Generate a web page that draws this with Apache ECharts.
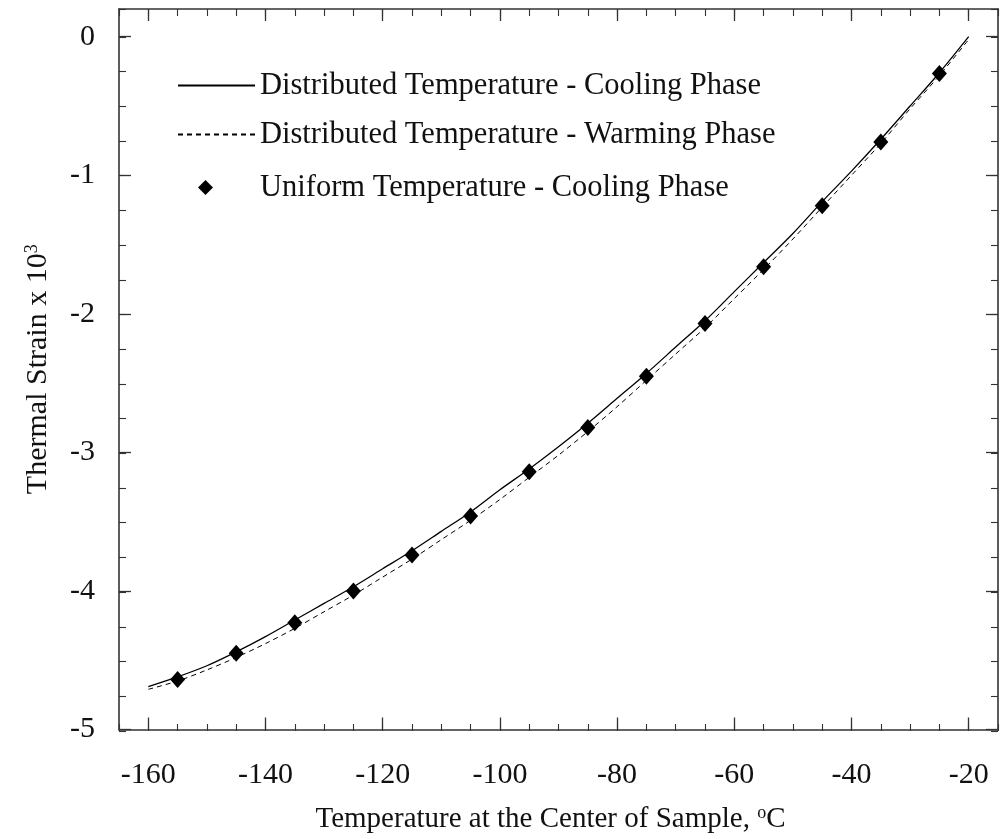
<!DOCTYPE html>
<html>
<head>
<meta charset="utf-8">
<script src="https://cdn.jsdelivr.net/npm/echarts@6/dist/echarts.min.js"></script>
<style>
  html, body { margin: 0; padding: 0; background: #fff; }
  #main { width: 1000px; height: 839px; }
</style>
</head>
<body>
<div id="main"></div>
<script>
// temperature grid for the two measured curves (deg C)
var curveTemps = [-160, -155, -150, -145, -140, -135, -130, -125, -120, -115, -110, -105, -100, -95, -90,
  -85, -80, -75, -70, -65, -60, -55, -50, -45, -40, -35, -30, -25, -20];
var coolingStrain = [-4.69, -4.62, -4.54, -4.44, -4.33, -4.21, -4.09, -3.97, -3.84, -3.71, -3.57, -3.43, -3.27, -3.12, -2.96,
  -2.79, -2.61, -2.43, -2.24, -2.05, -1.84, -1.63, -1.42, -1.19, -0.97, -0.74, -0.50, -0.26, 0.0];
var warmingStrain = [-4.71, -4.65, -4.57, -4.48, -4.38, -4.27, -4.15, -4.03, -3.90, -3.77, -3.63, -3.49, -3.34, -3.18, -3.02,
  -2.85, -2.67, -2.48, -2.29, -2.10, -1.89, -1.68, -1.46, -1.23, -1.00, -0.77, -0.52, -0.28, -0.02];
// uniform temperature model points
var uniformTemps = [-155, -145, -135, -125, -115, -105, -95, -85, -75, -65, -55, -45, -35, -25];
var uniformStrain = [-4.64, -4.45, -4.23, -4.00, -3.74, -3.46, -3.14, -2.82, -2.45, -2.07, -1.66, -1.22, -0.76, -0.265];

// tick labels
var xTicks = [-160, -140, -120, -100, -80, -60, -40, -20];
var yTicks = [-5, -4, -3, -2, -1, 0];

var seriesNames = [
  'Distributed Temperature - Cooling Phase',
  'Distributed Temperature - Warming Phase',
  'Uniform Temperature - Cooling Phase'
];

function zip(xs, ys) {
  return xs.map(function (x, i) { return [x, ys[i]]; });
}

var serif = 'Liberation Serif';
var frameColor = '#333';
var textColor = '#111';
var plotBox = { left: 119, right: 2, top: 9, bottom: 108 };

var myChart = echarts.init(document.getElementById('main'));

function majorAxis(extra, ticks) {
  return Object.assign({
    type: 'value',
    gridIndex: 0,
    axisLine: { show: true, onZero: false, lineStyle: { color: frameColor, width: 1.6 } },
    axisTick: { show: true, inside: true, length: 12, customValues: ticks, lineStyle: { color: frameColor, width: 1.3 } },
    axisLabel: { show: false },
    splitLine: { show: false }
  }, extra);
}

function minorAxis(extra) {
  return Object.assign({
    type: 'value',
    gridIndex: 1,
    axisLine: { show: false, onZero: false },
    axisTick: { show: true, inside: true, length: 7, lineStyle: { color: frameColor, width: 1.1 } },
    axisLabel: { show: false },
    splitLine: { show: false }
  }, extra);
}

var option = {
  animation: false,
  backgroundColor: '#fff',
  grid: [
    Object.assign({}, plotBox),
    Object.assign({}, plotBox)
  ],
  legend: [
    {
      orient: 'vertical',
      left: 172,
      top: 65,
      itemWidth: 77,
      itemHeight: 13,
      itemGap: 18,
      textStyle: { fontFamily: serif, fontSize: 30.5, color: textColor },
      data: [
        { name: seriesNames[0], itemStyle: { opacity: 0 } },
        { name: seriesNames[1], itemStyle: { opacity: 0 } }
      ]
    },
    {
      orient: 'vertical',
      left: 193,
      top: 167,
      itemWidth: 15,
      itemHeight: 15,
      textStyle: { fontFamily: serif, fontSize: 30.5, color: textColor, padding: [0, 0, 0, 42] },
      data: [seriesNames[2]]
    }
  ],
  xAxis: [
    majorAxis({
      position: 'bottom',
      min: -165,
      max: -15,
      axisLabel: {
        show: true,
        customValues: xTicks,
        margin: 31,
        fontFamily: serif,
        fontSize: 30,
        color: textColor
      },
      name: 'Temperature at the Center of Sample, {sup|o}C',
      nameLocation: 'middle',
      nameGap: 75,
      nameTextStyle: {
        fontFamily: serif,
        fontSize: 29,
        color: textColor,
        padding: [0, 16, 0, 0],
        rich: {
          sup: { fontFamily: serif, fontSize: 18, color: textColor, verticalAlign: 'top', padding: [0, 0, 12, 0] }
        }
      }
    }, xTicks),
    majorAxis({ position: 'top', min: -165, max: -15 }, xTicks),
    minorAxis({ position: 'bottom', min: -165, max: -15, interval: 5 }),
    minorAxis({ position: 'top', min: -165, max: -15, interval: 5 })
  ],
  yAxis: [
    majorAxis({
      position: 'left',
      min: -5,
      max: 0.2,
      axisLabel: {
        show: true,
        customValues: yTicks,
        margin: 24,
        fontFamily: serif,
        fontSize: 30,
        color: textColor
      },
      name: 'Thermal Strain x 10{sup|3}',
      nameLocation: 'middle',
      nameGap: 66,
      nameTextStyle: {
        fontFamily: serif,
        fontSize: 30,
        color: textColor,
        rich: {
          sup: { fontFamily: serif, fontSize: 18, color: textColor, verticalAlign: 'top', padding: [0, 0, 12, 0] }
        }
      }
    }, yTicks),
    majorAxis({ position: 'right', min: -5, max: 0.2 }, yTicks),
    minorAxis({ position: 'left', min: -5, max: 0.2, interval: 0.25 }),
    minorAxis({ position: 'right', min: -5, max: 0.2, interval: 0.25 })
  ],
  series: [
    {
      name: seriesNames[0],
      type: 'line',
      xAxisIndex: 0,
      yAxisIndex: 0,
      showSymbol: false,
      symbol: 'none',
      smooth: 0.3,
      lineStyle: { color: '#000', width: 1.3, type: 'solid' },
      itemStyle: { color: '#000' },
      data: zip(curveTemps, coolingStrain),
      z: 3
    },
    {
      name: seriesNames[1],
      type: 'line',
      xAxisIndex: 0,
      yAxisIndex: 0,
      showSymbol: false,
      symbol: 'none',
      smooth: 0.3,
      lineStyle: { color: '#000', width: 1, type: [5, 4] },
      itemStyle: { color: '#000' },
      data: zip(curveTemps, warmingStrain),
      z: 3
    },
    {
      name: seriesNames[2],
      type: 'scatter',
      xAxisIndex: 0,
      yAxisIndex: 0,
      symbol: 'diamond',
      symbolSize: [15, 17],
      itemStyle: { color: '#000', opacity: 1 },
      data: zip(uniformTemps, uniformStrain),
      z: 5
    }
  ]
};

myChart.setOption(option);
</script>
</body>
</html>
